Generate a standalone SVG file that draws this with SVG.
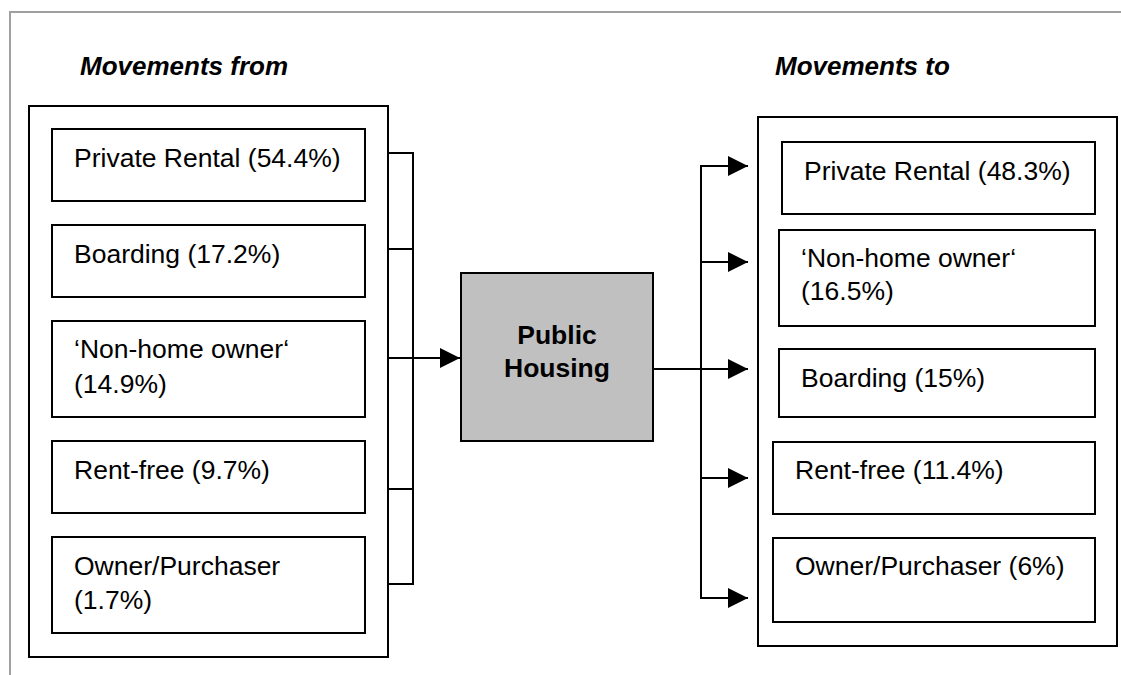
<svg xmlns="http://www.w3.org/2000/svg" width="1121" height="675" viewBox="0 0 1121 675">
<defs>
<style>
.bx{fill:#fff;stroke:#000;stroke-width:2}
.ph{fill:#c0c0c0;stroke:#000;stroke-width:2}
.t{font-family:"Liberation Sans",Arial,sans-serif;font-size:26.5px;fill:#000}
.b{font-weight:bold}
.h{font-family:"Liberation Sans",Arial,sans-serif;font-size:26px;font-weight:bold;font-style:italic;fill:#000}
.ln{fill:none;stroke:#000;stroke-width:2}
</style>
<marker id="ah" markerUnits="userSpaceOnUse" markerWidth="20" markerHeight="20" refX="20" refY="10" orient="auto">
<path d="M0,0 L20,10 L0,20 Z" fill="#000"/>
</marker>
</defs>
<rect width="1121" height="675" fill="#fff"/>
<path d="M10,675 V12 H1121" fill="none" stroke="#a0a0a0" stroke-width="2"/>
<text class="h" x="80" y="75">Movements from</text>
<text class="h" x="775" y="75">Movements to</text>
<g id="from-group">
<rect class="bx" x="29" y="106" width="359" height="551"/>
</g>
<g id="from-private">
<rect class="bx" x="52" y="129" width="313" height="72"/>
<text class="t" x="74" y="167">Private Rental (54.4%)</text>
</g>
<g id="from-boarding">
<rect class="bx" x="52" y="225" width="313" height="72"/>
<text class="t" x="74" y="263">Boarding (17.2%)</text>
</g>
<g id="from-nonhome">
<rect class="bx" x="52" y="321" width="313" height="96"/>
<text class="t" x="74" y="358">‘Non-home owner‘</text>
<text class="t" x="74" y="393">(14.9%)</text>
</g>
<g id="from-rentfree">
<rect class="bx" x="52" y="441" width="313" height="72"/>
<text class="t" x="74" y="479">Rent-free (9.7%)</text>
</g>
<g id="from-owner">
<rect class="bx" x="52" y="537" width="313" height="96"/>
<text class="t" x="74" y="575">Owner/Purchaser</text>
<text class="t" x="74" y="609">(1.7%)</text>
</g>
<g id="public-housing">
<rect class="ph" x="461" y="273" width="192" height="168"/>
<text class="t b" x="557" y="344" text-anchor="middle">Public</text>
<text class="t b" x="557" y="377" text-anchor="middle">Housing</text>
</g>
<g id="to-group">
<rect class="bx" x="758" y="117" width="359" height="529"/>
</g>
<g id="to-private">
<rect class="bx" x="782" y="142" width="313" height="72"/>
<text class="t" x="804" y="180">Private Rental (48.3%)</text>
</g>
<g id="to-nonhome">
<rect class="bx" x="779" y="230" width="316" height="96"/>
<text class="t" x="801" y="267">‘Non-home owner‘</text>
<text class="t" x="801" y="300">(16.5%)</text>
</g>
<g id="to-boarding">
<rect class="bx" x="779" y="349" width="316" height="68"/>
<text class="t" x="801" y="387">Boarding (15%)</text>
</g>
<g id="to-rentfree">
<rect class="bx" x="773" y="442" width="322" height="72"/>
<text class="t" x="795" y="479">Rent-free (11.4%)</text>
</g>
<g id="to-owner">
<rect class="bx" x="773" y="538" width="322" height="84"/>
<text class="t" x="795" y="575">Owner/Purchaser (6%)</text>
</g>
<g id="connectors">
<path class="ln" d="M388,153 H413 V584 H388 M388,249 H413 M388,489 H413"/>
<path class="ln" d="M388,358 H460" marker-end="url(#ah)"/>
<path class="ln" d="M653,369 H748" marker-end="url(#ah)"/>
<path class="ln" d="M748,166 H701 V598 H748" />
<path class="ln" d="M701,166 H748" marker-end="url(#ah)"/>
<path class="ln" d="M701,262 H748" marker-end="url(#ah)"/>
<path class="ln" d="M701,478 H748" marker-end="url(#ah)"/>
<path class="ln" d="M701,598 H748" marker-end="url(#ah)"/>
</g>
</svg>
